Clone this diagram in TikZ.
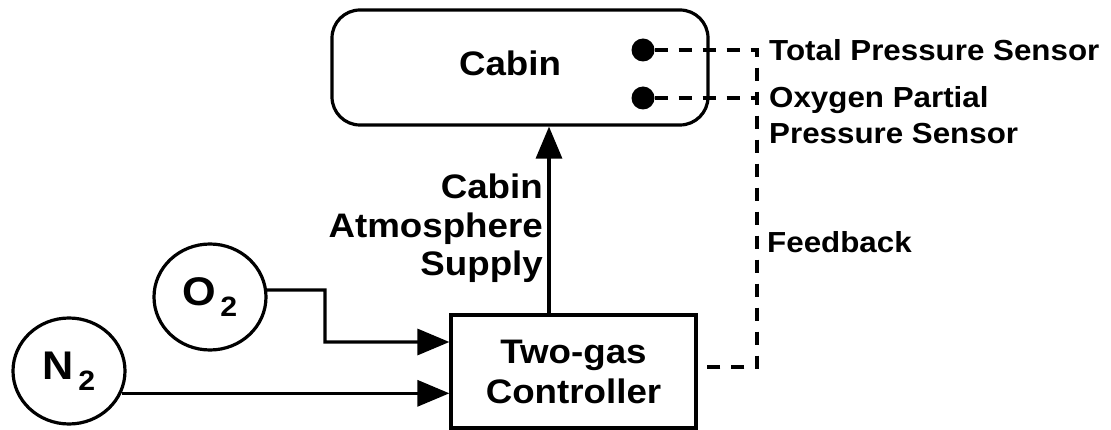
\documentclass[tikz,border=0pt]{standalone}
\usepackage{fontspec}
\setmainfont{Liberation Sans}[FakeStretch=1.08]
\usetikzlibrary{arrows.meta,shapes.geometric}
\begin{document}
\begin{tikzpicture}[x=1pt,y=1pt,
  box/.style={draw, line width=3.2pt, inner sep=0pt},
  main/.style={font=\fontsize{34}{40}\selectfont\bfseries},
  side/.style={font=\fontsize{29}{36}\selectfont\bfseries, inner sep=0pt},
  flow/.style={line width=3.2pt, -{Triangle[length=32pt,width=26pt]}},
  fb/.style={line width=3.6pt, dash pattern=on 13pt off 11pt},
  sensor/.style={circle, fill, minimum size=23pt, inner sep=0pt},
  gas/.style={ellipse, draw, line width=3.2pt, minimum width=112pt, minimum height=106pt, inner sep=0pt, font=\fontsize{40}{44}\selectfont\bfseries}]
\useasboundingbox (0,0) rectangle (1111,-430);

% Cabin
\node[box, rounded corners=28pt, minimum width=376pt, minimum height=115pt] (cabin) at (520,-67.5) {};
\node[main, inner sep=0pt] (cabintext) at (510,-63) {Cabin};

% sensors
\node[sensor] (tp) at (643,-50) {};
\node[sensor] (op) at (643,-98) {};

% controller
\node[box, main, minimum width=245pt, minimum height=113pt, align=center] (controller) at (573.5,-371.5) {Two-gas\\Controller};

% gas sources
\node[gas] (o2) at (210,-297) {O\textsubscript{\,2}};
\node[gas] (n2) at (69,-371) {N\textsubscript{\,2}};

% supply
\draw[flow] ([xshift=-24.5pt]controller.north) -- ([xshift=-24.5pt]controller.north |- cabin.south);
\node[inner sep=0pt, anchor=north east, align=right, font=\fontsize{34}{38.5}\selectfont\bfseries] (supplylabel) at (543,-174) {Cabin\\Atmosphere\\Supply};

% gas lines
\coordinate (o2bend) at (325,-290);
\draw[flow] (o2.7) -- (o2bend) |- ([yshift=29.5pt]controller.west);
\draw[flow] (n2.-23) -- (controller.west |- n2.-23);

% feedback
\coordinate (tpc) at (757,-50);
\coordinate (opc) at (757,-98);
\coordinate (fbc) at (757,-367);
\draw[fb] (tp) -- (tpc) -- (fbc) -- (controller.east |- fbc);
\draw[fb] (op) -- (opc);

% labels
\node[side, anchor=west] (tplabel) at (769,-50) {Total Pressure Sensor};
\node[side, anchor=north west, align=left] (oplabel) at (769,-86) {Oxygen Partial\\Pressure Sensor};
\node[side, anchor=base west] (fblabel) at (767,-253) {Feedback};
\end{tikzpicture}
\end{document}
